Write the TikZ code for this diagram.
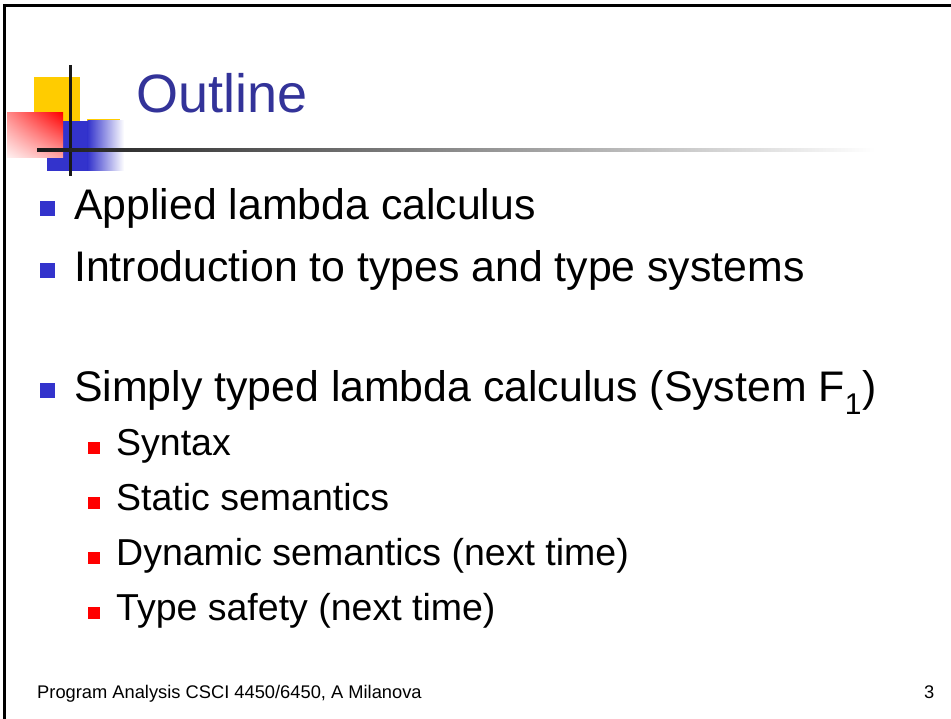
\documentclass[tikz,border=0pt]{standalone}
\usepackage{fontspec}
\setmainfont{Liberation Sans}
\usetikzlibrary{positioning,shadings}

\definecolor{titleblue}{RGB}{51,51,153}
\definecolor{bulletblue}{RGB}{51,51,204}
\definecolor{logoyellow}{RGB}{255,204,0}

\tikzset{
    itemone/.style={anchor=base west, inner sep=0pt, font=\fontsize{42.8}{50}\selectfont},
    itemtwo/.style={anchor=base west, inner sep=0pt, font=\fontsize{37.5}{42}\selectfont},
    bulletone/.style={fill=bulletblue, minimum size=15pt, inner sep=0pt},
    bullettwo/.style={fill=red, minimum size=12pt, inner sep=0pt},
    footer/.style={anchor=base west, inner sep=0pt, font=\fontsize{18.3}{20}\selectfont}
}

\begin{document}
\begin{tikzpicture}[x=1pt, y=-1pt]
    \useasboundingbox[fill=white] (0,0) rectangle (951,719);

    % frame
    \draw[line width=3pt] (3,5.5) -- (951,5.5);
    \draw[line width=3pt] (4.5,4) -- (4.5,719);

    % logo
    \fill[logoyellow] (34,77) rectangle (80,122);
    \fill[logoyellow] (87,119) rectangle (120,122);
    \fill[bulletblue] (47,121) rectangle (88,171);
    \shade[left color=bulletblue, right color=white] (87.5,121) rectangle (124,171);
    \shade[upper right=red, upper left=red!45!white, lower right=red!35!white, lower left=red!5!white] (7,113) rectangle (63,158);
    \draw[line width=3pt, color=black!90] (70,65) -- (70,176);
    \shade[left color=black!90, right color=white] (37,148.5) rectangle (875,151.5);

    \node[anchor=base west, inner sep=0pt, text=titleblue, font=\fontsize{54}{60}\selectfont] (title) at (136,113) {Outline};

    % first level
    \node[bulletone] (b1) at (47,209) {};
    \node[itemone] (t1) at (74,220) {Applied lambda calculus};
    \node[bulletone] (b2) at (47,271) {};
    \node[itemone] (t2) at (74,282) {Introduction to types and type systems};
    \node[bulletone] (b3) at (47,391) {};
    \node[itemone] (t3) at (74,402) {Simply typed lambda calculus (System F\textsubscript{1})};

    % second level
    \node[bullettwo] (s1) at (93.5,448) {};
    \node[itemtwo] (u1) at (116,455) {Syntax};
    \node[bullettwo] (s2) at (93.5,503) {};
    \node[itemtwo] (u2) at (116,510) {Static semantics};
    \node[bullettwo] (s3) at (93.5,558) {};
    \node[itemtwo] (u3) at (116,565) {Dynamic semantics (next time)};
    \node[bullettwo] (s4) at (93.5,613) {};
    \node[itemtwo] (u4) at (116,620) {Type safety (next time)};

    \node[footer] (foot) at (37,698) {Program Analysis CSCI 4450/6450, A Milanova};
    \node[footer] (page) at (924,698) {3};
\end{tikzpicture}
\end{document}
